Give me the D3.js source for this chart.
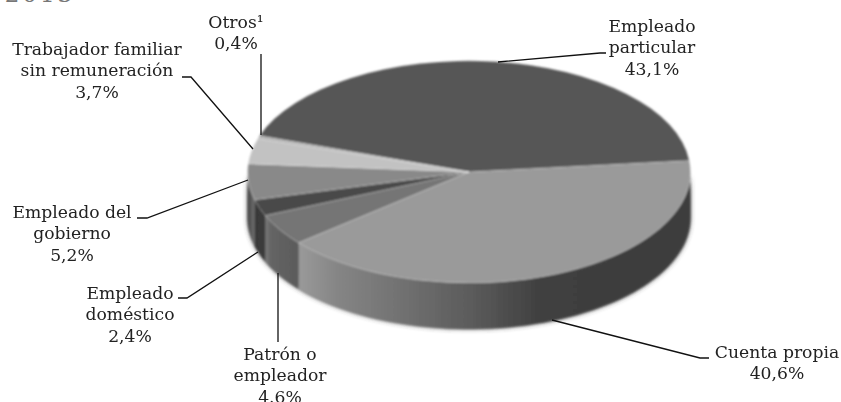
<!DOCTYPE html>
<html lang="es">
<head>
  <meta charset="UTF-8">
  <title>Ocupados según posición ocupacional</title>
  <script src="https://cdnjs.cloudflare.com/ajax/libs/d3/7.8.5/d3.min.js"></script>
  <style>
    html, body { margin: 0; background: #fff; overflow: hidden; }
    svg { display: block; }
    text { font-family: "DejaVu Serif", serif; font-size: 17.2px; fill: #222; text-anchor: middle; }
    .leader { fill: none; stroke: #111; stroke-width: 1.3; }
  </style>
</head>
<body>
<svg id="chart" width="841" height="402"></svg>
<script>
const categories = ["Empleado particular", "Cuenta propia", "Patrón o empleador", "Empleado doméstico", "Empleado del gobierno", "Trabajador familiar sin remuneración", "Otros"];
const shares = [43.1, 40.6, 4.6, 2.4, 5.2, 3.7, 0.4];
const shareLabels = ["43,1%", "40,6%", "4.6%", "2,4%", "5,2%", "3,7%", "0,4%"];
const labelLines = [
  ["Empleado", "particular"],
  ["Cuenta propia"],
  ["Patrón o", "empleador"],
  ["Empleado", "doméstico"],
  ["Empleado del", "gobierno"],
  ["Trabajador familiar", "sin remuneración"],
  ["Otros¹"]
];

// styles and layout, same order as categories
const faceColors = ["#565656", "#9a9a9a", "#757575", "#484848", "#898989", "#c2c2c2", "#b0b0b0"];
const wallStops = [
  [[0, "#3c3c3c"], [1, "#3c3c3c"]],
  [[0, "#9a9a9a"], [0.1, "#858585"], [0.45, "#5a5a5a"], [0.62, "#3f3f3f"], [1, "#3e3e3e"]],
  [[0, "#7c7c7c"], [0.15, "#656565"], [1, "#5a5a5a"]],
  [[0, "#383838"], [1, "#3c3c3c"]],
  [[0, "#444"], [1, "#6f6f6f"]],
  [[0, "#777"], [1, "#777"]],
  [[0, "#777"], [1, "#777"]]
];
const labelX = [652, 777, 280, 130, 72, 97, 236];
const labelY = [32, 358, 360, 299, 218, 55, 28];
const lineGap = 21.3;
const leaders = [
  [[606, 53], [600, 53], [498, 62]],
  [[709, 358], [700, 358], [552, 320]],
  [[278, 342], [278, 273]],
  [[178, 298], [187, 298], [258, 252]],
  [[137, 218], [147, 218], [248, 180]],
  [[182, 77], [191, 77], [253, 149]],
  [[261, 54], [261, 135]]
];

const cx = 469, cy = 172, rx = 221.5, ry = 111, depth = 46;
const startAngle = -71 * Math.PI / 180;

const svg = d3.select("#chart");
const defs = svg.append("defs");
defs.append("filter").attr("id", "soft").append("feGaussianBlur").attr("stdDeviation", 0.8);
defs.append("filter").attr("id", "halo")
  .attr("x", "-10%").attr("y", "-10%").attr("width", "120%").attr("height", "120%")
  .append("feGaussianBlur").attr("stdDeviation", 2.4);
const textBlur = defs.append("filter").attr("id", "textSoft");
textBlur.append("feGaussianBlur").attr("stdDeviation", 0.25);

const pie = d3.pie().sort(null).startAngle(startAngle).endAngle(startAngle + 2 * Math.PI);
const slices = pie(shares);
const arc = d3.arc().innerRadius(0).outerRadius(1);

const wallArea = d3.area()
  .x(a => cx + rx * Math.sin(a))
  .y0(a => cy - ry * Math.cos(a))
  .y1(a => cy - ry * Math.cos(a) + depth);

function wallAngles(d) {
  const a0 = Math.max(d.startAngle, Math.PI / 2), a1 = Math.min(d.endAngle, 3 * Math.PI / 2);
  if (a1 <= a0) return null;
  return d3.range(0, 61).map(i => a0 + (a1 - a0) * i / 60);
}

// clipped year of the page heading
svg.append("text").attr("x", 40).attr("y", 2)
  .style("font-size", "23px").style("letter-spacing", "3px").style("fill", "#777").text("2013");

// soft shadow around the wall
svg.append("path")
  .attr("d", wallArea(d3.range(0, 121).map(i => Math.PI / 2 + Math.PI * i / 120)))
  .attr("fill", "#333").attr("opacity", 0.7).attr("filter", "url(#halo)");

const pieGroup = svg.append("g").attr("filter", "url(#soft)");

slices.forEach((d, i) => {
  const angles = wallAngles(d);
  if (!angles) return;
  const grad = defs.append("linearGradient").attr("id", "wall" + i)
    .attr("gradientUnits", "userSpaceOnUse")
    .attr("x1", d3.min(angles, a => cx + rx * Math.sin(a))).attr("y1", 0)
    .attr("x2", d3.max(angles, a => cx + rx * Math.sin(a))).attr("y2", 0);
  grad.selectAll("stop").data(wallStops[i]).join("stop")
    .attr("offset", s => s[0]).attr("stop-color", s => s[1]);
  pieGroup.append("path").attr("d", wallArea(angles)).attr("fill", `url(#wall${i})`);
});

pieGroup.append("g")
  .attr("transform", `translate(${cx},${cy}) scale(${rx},${ry})`)
  .selectAll("path").data(slices).join("path")
  .attr("d", arc)
  .attr("fill", (d, i) => faceColors[i])
  .attr("stroke", "#fff").attr("stroke-opacity", 0.22)
  .attr("stroke-width", 1)
  .attr("vector-effect", "non-scaling-stroke");

const leaderLine = d3.line();
svg.append("g").selectAll("path").data(leaders).join("path")
  .attr("class", "leader").attr("d", leaderLine);

const labels = svg.append("g").attr("filter", "url(#textSoft)").selectAll("text").data(categories).join("text")
  .attr("y", (d, i) => labelY[i]);
labels.selectAll("tspan")
  .data((d, i) => labelLines[i].concat(shareLabels[i]).map(t => ({ t, i })))
  .join("tspan")
  .attr("x", d => labelX[d.i])
  .attr("dy", (d, j) => j ? lineGap : 0)
  .text(d => d.t);
</script>
</body>
</html>
